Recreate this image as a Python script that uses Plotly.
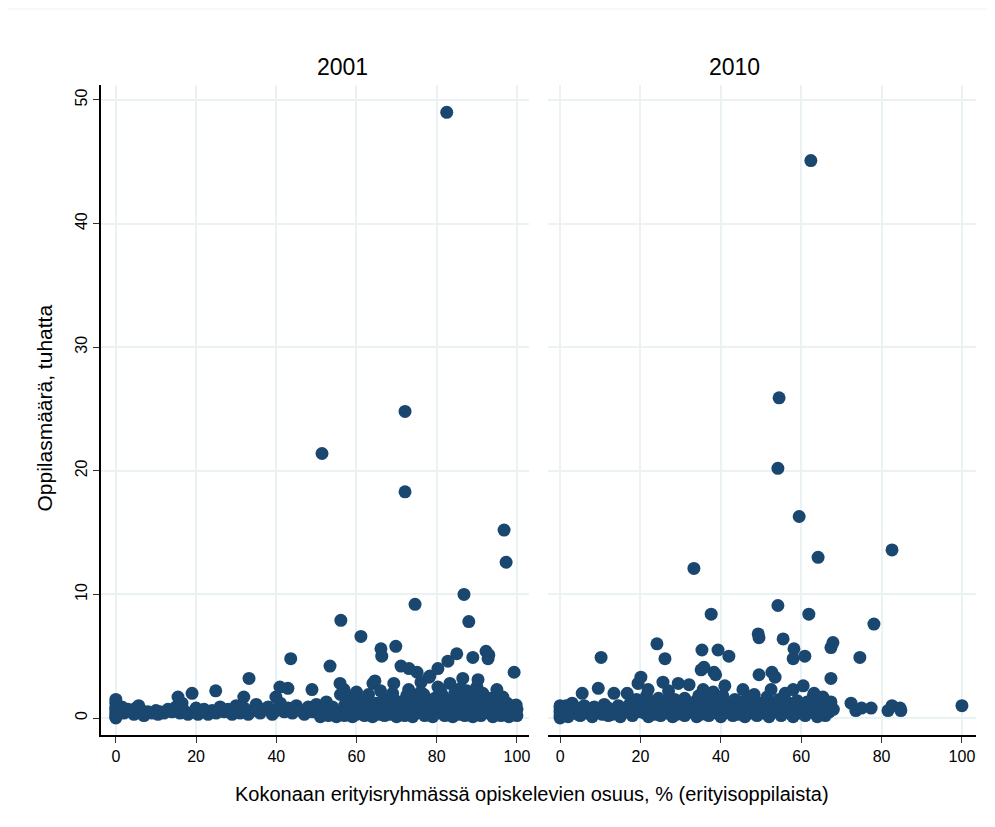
import plotly.graph_objects as go
from plotly.subplots import make_subplots

# 2001: share of pupils in special groups (%) vs. number of pupils (thousands)
x_2001 = [
    0, 0, 0, 0, 0, 0, 0, 0, 0.3, 0.2,
    1, 1.5, 2, 3, 4, 4.5, 5, 5.7, 6, 6.5, 7, 8, 9, 10, 10.5,
    11, 12, 13, 14, 15, 15.5, 16, 16.5, 17, 18, 19, 19.5, 20, 20.5,
    21, 22, 23, 24, 24.9, 25, 26, 27, 28, 29, 30, 30.5,
    31, 31.9, 32, 33, 33.2, 34, 35, 36, 37, 38, 39, 39.9, 40, 40.9,
    41, 42, 42.9, 43, 43.6, 44, 45, 46, 47, 48, 48.9, 49, 50, 50.5,
    51, 51.4, 52, 52.5, 53, 53.4, 54, 55, 55.9, 56.1, 56.9, 57, 58, 58.5, 59, 60, 60.5,
    61, 61.1, 62, 62.5, 63, 64, 64.1, 64.6, 65, 65.5, 66, 66.1, 66.3, 67, 67.5, 68, 68.5,
    69, 69.3, 69.8, 70, 70.5,
    71, 71.1, 72, 72.1, 72.1, 72.5, 73, 73.1, 73.5, 74, 74.6, 75, 75.1, 75.5, 76, 76.1,
    76.8, 77, 77.5, 78, 78.1, 78.3, 79, 79.5, 80, 80.3, 80.3, 80.5,
    81, 81.5, 82, 82.5, 82.8, 83, 83.3, 84, 84.5, 85, 85, 85.5, 86, 86.5, 86.8, 87, 87.5,
    88, 88, 88.5, 89, 89, 89.5, 90, 90.3, 90.5,
    91, 91.5, 92, 92.3, 92.8, 93, 93, 93.5, 94, 94.5, 95, 95.5, 96, 96.5, 96.8, 97, 97.3,
    97.5, 98, 98.5, 99, 99.3, 99.8, 99.5, 100, 100,
    51, 53, 55, 57, 59, 62, 64, 67, 70, 72, 74, 77, 79, 82, 84, 87, 89, 91, 94, 96, 98,
    56, 60, 63, 66, 69, 73, 76, 81, 86, 90, 95,
]
y_2001 = [
    0.0, 0.1, 0.3, 0.5, 0.7, 0.9, 1.2, 1.5, 0.4, 0.8,
    0.6, 0.9, 0.4, 0.7, 0.5, 0.3, 0.8, 1.0, 0.4, 0.6, 0.2, 0.5, 0.4, 0.6, 0.3,
    0.5, 0.4, 0.7, 0.5, 0.9, 1.7, 0.4, 1.2, 0.6, 0.3, 2.0, 0.5, 0.8, 0.3,
    0.5, 0.7, 0.3, 0.6, 2.2, 0.4, 0.9, 0.5, 0.7, 0.3, 1.0, 0.5,
    0.4, 1.7, 0.8, 0.3, 3.2, 0.6, 1.1, 0.4, 0.7, 0.9, 0.3, 1.7, 0.6, 2.5,
    1.2, 0.5, 2.4, 0.8, 4.8, 0.4, 1.0, 0.6, 0.3, 0.9, 2.3, 0.5, 1.1, 0.4,
    0.7, 21.4, 0.3, 1.3, 0.6, 4.2, 0.9, 0.4, 2.8, 7.9, 2.3, 1.0, 0.5, 1.6, 0.8, 0.3, 1.2,
    0.6, 6.6, 1.4, 0.4, 0.9, 0.5, 2.8, 3.0, 1.2, 0.3, 0.8, 5.6, 5.0, 1.5, 0.5, 1.0, 0.3,
    1.8, 2.8, 5.8, 0.7, 1.3,
    0.4, 4.2, 1.0, 24.8, 18.3, 1.8, 0.6, 4.0, 2.0, 1.2, 9.2, 0.4, 3.7, 1.5, 0.8, 2.9,
    1.9, 0.5, 1.3, 0.9, 3.3, 3.4, 0.3, 1.6, 0.7, 4.0, 2.5, 1.1,
    0.4, 1.8, 0.9, 49.0, 4.6, 1.4, 2.8, 0.6, 2.0, 5.2, 1.0, 0.3, 1.5, 3.2, 10.0, 0.7, 2.2,
    7.8, 1.2, 0.4, 4.9, 1.8, 0.8, 2.5, 3.1, 1.3,
    0.5, 2.0, 1.0, 5.4, 4.8, 5.1, 0.4, 1.6, 0.8, 1.2, 0.3, 1.7, 0.9, 1.7, 15.2, 0.5, 12.6,
    1.2, 0.8, 0.4, 1.0, 3.7, 1.05, 0.4, 0.7, 0.2,
    0.1, 0.2, 0.1, 0.2, 0.1, 0.2, 0.1, 0.2, 0.1, 0.2, 0.1, 0.2, 0.1, 0.2, 0.1, 0.2, 0.1, 0.2, 0.1, 0.2, 0.1,
    1.9, 2.1, 1.9, 2.2, 2.0, 2.3, 2.1, 2.2, 2.4, 2.1, 2.3,
]

# 2010
x_2010 = [
    0, 0, 0, 0, 0, 0, 0.3, 0.5,
    1, 1.5, 2, 2.5, 3, 3.5, 4, 4.5, 5, 5.5, 6, 6.5, 7, 8, 8.5, 9, 9.5, 10.2, 10, 10.5,
    11, 11.5, 12, 13, 13.4, 14, 14.5, 15, 16, 16.7, 17, 17.5, 18, 18.5, 19, 19.4, 20, 20.1, 20.5,
    21, 21.5, 21.9, 22, 23, 23.5, 24, 24.1, 24.5, 25, 25.6, 26.1, 26, 26.5, 27, 27.5, 28, 28.5,
    29, 29.4, 30, 30.5,
    31, 31.5, 32, 32.1, 33, 33.3, 33.5, 34, 34.5, 35, 35.1, 35.3, 35.6, 35.8, 36, 36.5, 37,
    37.6, 38, 38.1, 38.3, 38.7, 39, 39.3, 39.5, 40, 40.5,
    41, 41, 41.5, 42, 42, 43, 43.5, 44, 44.5, 45, 45.5, 46, 46.5, 47, 47.5, 48, 48.3, 49,
    49.3, 49.5, 49.5, 50, 50.5,
    51, 51.5, 52, 52.5, 52.7, 53, 53.5, 54, 54.2, 54.2, 54.5, 54.5, 55, 55.5, 55.5, 56, 56.5,
    57, 57.5, 58, 58, 58.2, 58.5, 59, 59.5, 59.5, 60, 60.5, 60.9,
    61, 61.5, 61.9, 62, 62.4, 63, 63.2, 63.5, 64, 64.2, 64.5, 65, 65.4, 66, 66.5, 67, 67.4,
    67.4, 67.4, 67.9, 68,
    72.4, 73.6, 74.6, 75, 77.4, 78.1, 81.6, 82.6, 82.6, 84.6, 84.8, 100,
    2, 5, 8, 12, 15, 18, 22, 25, 28, 31, 34, 37, 40, 43, 46, 49, 52, 55, 58, 61, 64, 66,
]
y_2010 = [
    0.0, 0.2, 0.4, 0.6, 0.8, 1.0, 0.3, 0.7,
    0.5, 1.0, 0.3, 0.7, 1.2, 0.4, 0.8, 0.3, 0.6, 2.0, 1.0, 0.4, 0.7, 0.3, 0.9, 0.5, 2.4, 4.9, 0.7, 0.3,
    1.1, 0.5, 0.8, 0.3, 2.0, 0.6, 1.0, 0.4, 0.8, 2.0, 0.5, 1.2, 0.3, 0.8, 1.5, 2.8, 0.5, 3.3, 1.0,
    0.4, 1.8, 2.3, 0.7, 1.2, 0.3, 0.9, 6.0, 1.6, 0.5, 2.9, 4.8, 1.3, 0.4, 2.2, 0.9, 0.5, 1.5,
    0.3, 2.8, 1.0, 0.5,
    1.6, 0.4, 0.9, 2.7, 0.5, 12.1, 1.3, 0.7, 1.8, 0.3, 3.9, 5.5, 2.3, 4.1, 1.1, 0.5, 1.6,
    8.4, 0.8, 2.1, 3.7, 3.5, 0.4, 5.5, 1.3, 0.7, 1.8,
    2.6, 0.4, 1.2, 5.0, 0.8, 0.5, 1.5, 0.9, 0.3, 1.3, 2.3, 0.6, 1.0, 1.7, 0.4, 0.9, 1.9, 0.5,
    6.8, 6.5, 3.5, 1.2, 0.4,
    0.8, 1.7, 0.3, 2.3, 3.7, 1.1, 3.3, 0.6, 20.2, 9.1, 25.9, 1.5, 0.4, 6.4, 0.9, 2.0, 0.5,
    1.2, 0.3, 2.3, 4.8, 5.6, 0.8, 1.4, 16.3, 0.4, 1.0, 2.6, 5.0,
    0.6, 1.3, 8.4, 0.5, 45.1, 1.8, 2.0, 0.9, 0.3, 13.0, 1.2, 0.4, 1.7, 0.8, 1.3, 0.5, 3.2,
    5.7, 1.3, 6.1, 0.7,
    1.2, 0.6, 4.9, 0.8, 0.8, 7.6, 0.6, 1.0, 13.6, 0.8, 0.6, 1.0,
    0.1, 0.2, 0.1, 0.2, 0.1, 0.2, 0.1, 0.2, 0.1, 0.2, 0.1, 0.2, 0.1, 0.2, 0.1, 0.2, 0.1, 0.2, 0.1, 0.2, 0.1, 0.2,
]

x_ticks = [0, 20, 40, 60, 80, 100]
y_ticks = [0, 10, 20, 30, 40, 50]
panel_titles = ["2001", "2010"]

NAVY = "#1a476f"
GRID = "#eaf2f3"
FONT = "Liberation Sans, Arial, sans-serif"

fig = make_subplots(rows=1, cols=2, shared_yaxes=True, horizontal_spacing=0.0218)
for i, (xs, ys) in enumerate([(x_2001, y_2001), (x_2010, y_2010)]):
    fig.add_trace(
        go.Scatter(
            x=xs, y=ys, mode="markers",
            marker={"color": NAVY, "size": 13, "line": {"width": 0}},
            showlegend=False, hoverinfo="x+y",
        ),
        row=1, col=i + 1,
    )

axis_common = dict(
    showgrid=True, gridcolor=GRID, gridwidth=1.5, zeroline=False,
    ticks="outside", ticklen=6, tickcolor="#333", tickwidth=1,
    tickfont={"size": 16, "color": "#000", "family": FONT},
)
fig.update_xaxes(
    tickvals=x_ticks, showline=True, linecolor="#000", linewidth=1.5,
    **axis_common,
)
fig.update_xaxes(range=[-3.7, 103.0], domain=[0, 0.4891], row=1, col=1)
fig.update_xaxes(range=[-3.0, 103.5], domain=[0.5109, 1], row=1, col=2)
fig.update_yaxes(range=[-1.375, 51.21], tickvals=y_ticks, tickangle=-90, **axis_common)
fig.update_yaxes(showline=True, linecolor="#000", linewidth=1.5, row=1, col=1)
fig.update_yaxes(showline=False, ticks="", showticklabels=False, row=1, col=2)

fig.update_layout(
    width=988, height=820,
    margin={"l": 93, "r": 20, "t": 77, "b": 93},
    paper_bgcolor="white", plot_bgcolor="white",
    font={"family": FONT, "color": "#000"},
    annotations=[
        dict(text=panel_titles[0], x=0.2445, y=1.0, xref="paper", yref="paper",
             yanchor="bottom", yshift=3, showarrow=False, font={"size": 23}),
        dict(text=panel_titles[1], x=0.7555, y=1.0, xref="paper", yref="paper",
             yanchor="bottom", yshift=3, showarrow=False, font={"size": 23}),
        dict(text="Oppilasmäärä, tuhatta", x=-0.0646, y=0.503, xref="paper", yref="paper",
             xanchor="center", yanchor="middle",
             textangle=-90, showarrow=False, font={"size": 21}),
        dict(text="Kokonaan erityisryhmässä opiskelevien osuus, % (erityisoppilaista)",
             x=0.4926, y=-0.09, xref="paper", yref="paper", showarrow=False,
             xanchor="center", yanchor="middle", font={"size": 20}),
    ],
    shapes=[
        dict(type="line", xref="paper", yref="paper", x0=-0.107, x1=1.03,
             y0=1.117, y1=1.117, line={"color": "#f0f0f0", "width": 1}),
    ],
)

fig.write_html("out.html")
